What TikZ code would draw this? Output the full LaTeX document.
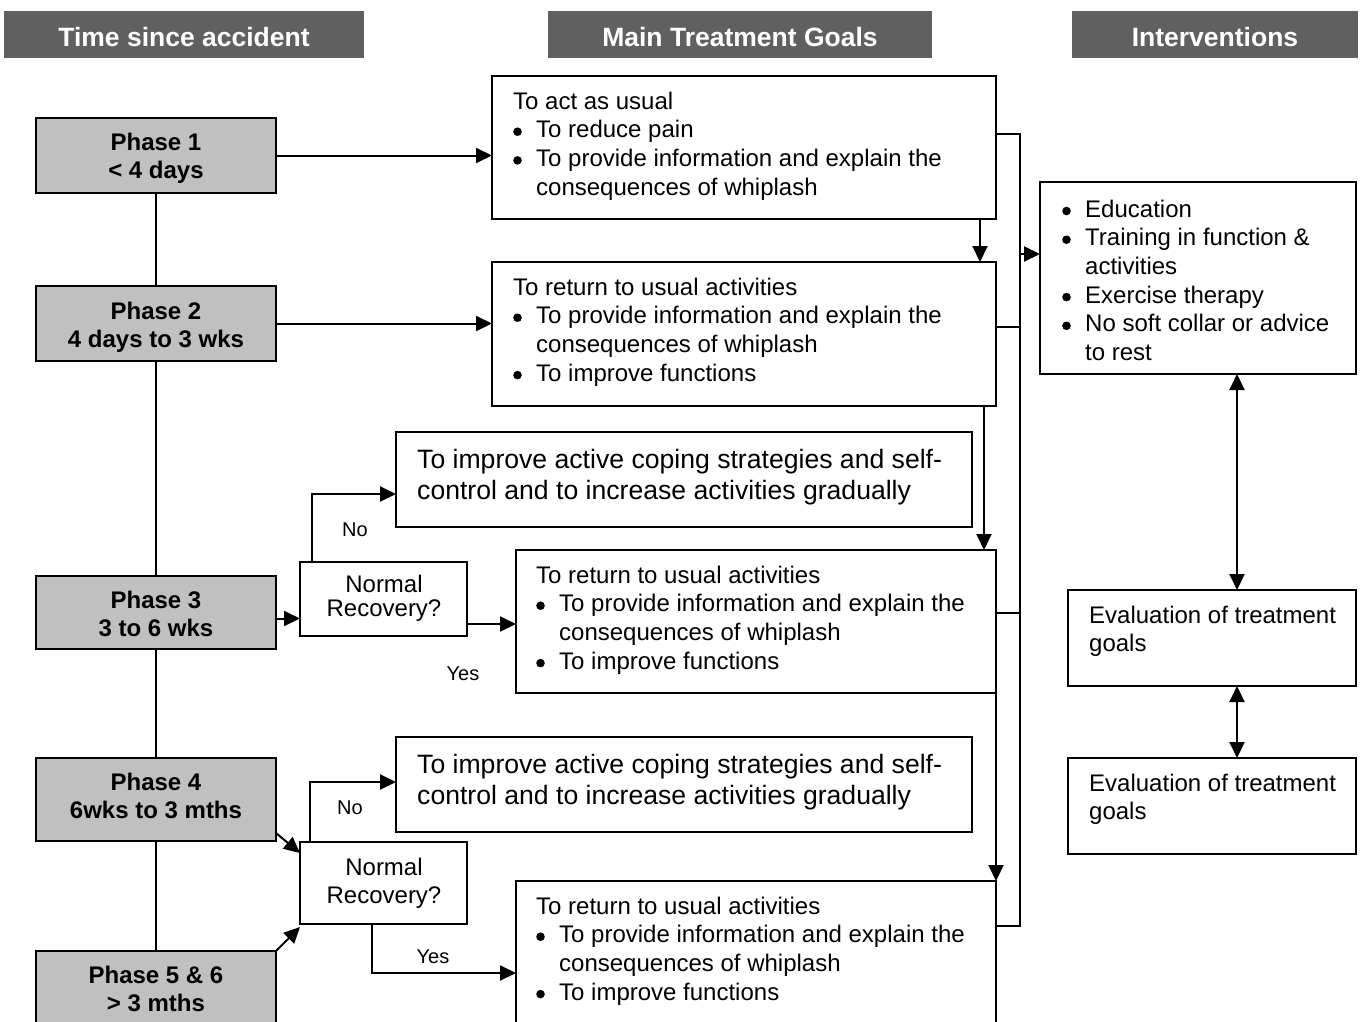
\documentclass[tikz,border=0pt]{standalone}
\usepackage{fontspec}
\setmainfont{Liberation Sans}
\usetikzlibrary{arrows.meta,calc}
\definecolor{hdrgray}{RGB}{96,96,96}
\definecolor{phasegray}{RGB}{192,192,192}
\newcommand\bu{\makebox[23pt][l]{\tikz[baseline=0pt]\fill[black] (4.5pt,6pt) circle[radius=4.3pt];}}
\newcommand\ind{\makebox[23pt]{}}
\begin{document}
\begin{tikzpicture}[x=1pt,y=-1pt,
  box/.style={draw=black, line width=2pt, inner sep=0pt, outer sep=0pt, anchor=north west, rectangle},
  phase/.style={box, fill=phasegray},
  hdr/.style={fill=hdrgray, text=white, inner sep=0pt, outer sep=0pt, anchor=north west, text height=24pt, text depth=0pt, font=\fontsize{26.5}{30}\selectfont\bfseries},
  txt/.style={anchor=base west, inner sep=0pt, align=left, font=\fontsize{24}{28.7}\selectfont},
  big/.style={anchor=base west, inner sep=0pt, align=left, font=\fontsize{26.6}{31}\selectfont},
  ptxt/.style={anchor=base, inner sep=0pt, align=center, font=\fontsize{24}{28.7}\selectfont\bfseries},
  lab/.style={inner sep=0pt, font=\fontsize{20}{24}\selectfont},
  conn/.style={line width=2pt},
  arr/.style={conn, -{Triangle[length=16pt,width=15pt]}},
  darr/.style={conn, {Triangle[length=16pt,width=15pt]}-{Triangle[length=16pt,width=15pt]}}
]
\path[use as bounding box] (0,0) rectangle (1363,1021);
\clip (0,0) rectangle (1363,1021);

% headers
\node[hdr, minimum width=360pt, minimum height=47pt] (H1) at (4,11) {Time since accident};
\node[hdr, minimum width=384pt, minimum height=47pt] (H2) at (548,11) {Main Treatment Goals};
\node[hdr, minimum width=286pt, minimum height=47pt] (H3) at (1072,11) {Interventions};

% phase boxes
\node[phase, minimum width=240pt, minimum height=75pt] (P1) at (36,118) {};
\node[phase, minimum width=240pt, minimum height=75pt] (P2) at (36,286) {};
\node[phase, minimum width=240pt, minimum height=73pt] (P3) at (36,576) {};
\node[phase, minimum width=240pt, minimum height=83pt] (P4) at (36,758) {};
\node[phase, minimum width=240pt, minimum height=100pt] (P5) at (36,951) {};
\node[ptxt] (tP1) at (156,178.7) {Phase 1\\< 4 days};
\node[ptxt] (tP2) at (156,347.7) {Phase 2\\4 days to 3 wks};
\node[ptxt] (tP3) at (156,636.7) {Phase 3\\3 to 6 wks};
\node[ptxt] (tP4) at (156,818.7) {Phase 4\\6wks to 3 mths};
\node[ptxt] (tP5) at (156,1011.7) {Phase 5 \& 6\\> 3 mths};

% goal boxes
\node[box, minimum width=504pt, minimum height=143pt] (G1) at (492,76) {};
\node[box, minimum width=504pt, minimum height=144pt] (G2) at (492,262) {};
\node[box, minimum width=576pt, minimum height=95pt] (C1) at (396,432) {};
\node[box, minimum width=167pt, minimum height=74pt] (NR1) at (300,562) {};
\node[box, minimum width=480pt, minimum height=143pt] (G3) at (516,550) {};
\node[box, minimum width=576pt, minimum height=95pt] (C2) at (396,737) {};
\node[box, minimum width=167pt, minimum height=82pt] (NR2) at (300,842) {};
\node[box, minimum width=480pt, minimum height=160pt] (G4) at (516,881) {};

\node[txt] (tG1) at (513,195.1) {To act as usual\\\bu To reduce pain\\\bu To provide information and explain the\\\ind consequences of whiplash};
\node[txt] (tG2) at (513,381.1) {To return to usual activities\\\bu To provide information and explain the\\\ind consequences of whiplash\\\bu To improve functions};
\node[txt] (tG3) at (536,669.1) {To return to usual activities\\\bu To provide information and explain the\\\ind consequences of whiplash\\\bu To improve functions};
\node[txt] (tG4) at (536,1000.1) {To return to usual activities\\\bu To provide information and explain the\\\ind consequences of whiplash\\\bu To improve functions};
\node[big] (tC1) at (417,499) {To improve active coping strategies and self-\\control and to increase activities gradually};
\node[big] (tC2) at (417,804) {To improve active coping strategies and self-\\control and to increase activities gradually};
\node[txt, anchor=base, align=center, font=\fontsize{24}{24}\selectfont] (tNR1) at (384,616) {Normal\\Recovery?};
\node[txt, anchor=base, align=center, font=\fontsize{24}{28}\selectfont] (tNR2) at (384,903) {Normal\\Recovery?};

% interventions
\node[box, minimum width=316pt, minimum height=192pt] (I1) at (1040,182) {};
\node[box, minimum width=288pt, minimum height=96pt] (E1) at (1068,590) {};
\node[box, minimum width=288pt, minimum height=96pt] (E2) at (1068,758) {};
\node[txt] (tI1) at (1062,360.5) {\bu Education\\\bu Training in function \&\\\ind activities\\\bu Exercise therapy\\\bu No soft collar or advice\\\ind to rest};
\node[txt] (tE1) at (1089,651.7) {Evaluation of treatment\\goals};
\node[txt] (tE2) at (1089,819.7) {Evaluation of treatment\\goals};

% phase spine
\draw[conn] (P1.south) -- (P2.north);
\draw[conn] (P2.south) -- (P3.north);
\draw[conn] (P3.south) -- (P4.north);
\draw[conn] (P4.south) -- (P5.north);

% phase to goals
\draw[arr] (P1.east) -- (P1.east -| G1.west);
\draw[arr] (P2.east) -- (P2.east -| G2.west);
\draw[arr] ([yshift=-6pt]P3.east) -- ([yshift=-6pt]P3.east -| NR1.west);
\draw[arr] ([yshift=-25pt]NR1.east) -- ([yshift=-25pt]NR1.east -| G3.west);
\draw[arr] ([xshift=12pt]NR1.north west) |- ([yshift=-14.5pt]C1.west);
\node[lab] (no1) at (355,530) {No};
\node[lab] (yes1) at (463,674) {Yes};

\draw[arr] ([yshift=8pt]P4.south east) -- ([yshift=-11pt]NR2.north west);
\draw[arr] (P5.north east) -- ([yshift=-3pt]NR2.south west);
\draw[arr] ([xshift=10pt]NR2.north west) |- ([yshift=2.5pt]C2.west);
\draw[arr] ([xshift=72pt]NR2.south west) |- ([yshift=-12pt]G4.west);
\node[lab] (no2) at (350,808) {No};
\node[lab] (yes2) at (433,957) {Yes};

% goal chain
\draw[arr] ([xshift=-16pt]G1.south east) -- ([xshift=-16pt]G2.north east);
\draw[arr] ([xshift=-12pt]G2.south east) -- ([xshift=-12pt]G3.north east);
\draw[arr] (G3.south east) -- (G4.north east);

% bracket
\coordinate (b1) at (1020,134);
\coordinate (b2) at (1020,327);
\coordinate (b3) at (1020,613);
\coordinate (b4) at (1020,926);
\coordinate (bm) at (1020,254);
\draw[conn] (b1 -| G1.east) -- (b1) -- (b4) -- (b4 -| G4.east);
\draw[conn] (b2 -| G2.east) -- (b2);
\draw[conn] (b3 -| G3.east) -- (b3);
\draw[arr] (bm) -- (bm -| I1.west);

% evaluation arrows
\coordinate (ax) at (1237,0);
\draw[darr] (ax |- I1.south) -- (ax |- E1.north);
\draw[darr] (ax |- E1.south) -- (ax |- E2.north);
\end{tikzpicture}
\end{document}
